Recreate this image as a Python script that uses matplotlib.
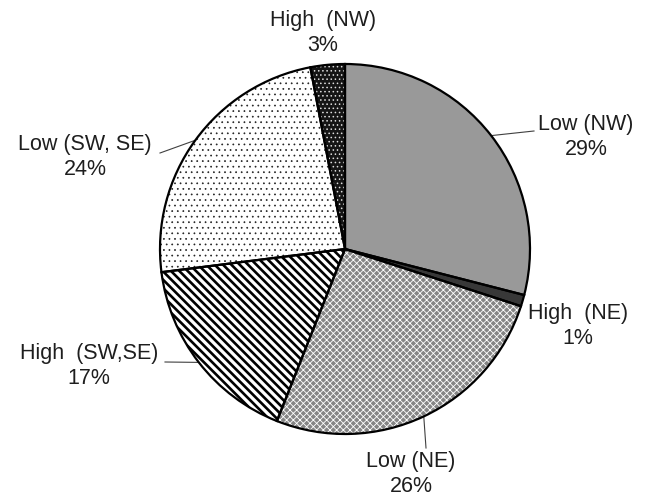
import numpy as np
import matplotlib
matplotlib.use("Agg")
import matplotlib.pyplot as plt

plt.rcParams['font.family'] = ['Liberation Sans', 'DejaVu Sans']

# ---- data ----
labels = ["Low (NW)", "High  (NE)", "Low (NE)", "High  (SW,SE)", "Low (SW, SE)", "High  (NW)"]
values = [29, 1, 26, 17, 24, 3]
pct_labels = ["29%", "1%", "26%", "17%", "24%", "3%"]

# ---- styles ----
faces = ['#999999', '#383838', '#858585', 'white', 'white', '#151515']
hatches = [None, None, 'xxxxx', '\\\\\\\\', '...', '....']
hatch_colors = ['#999999', '#383838', 'white', 'black', '#222222', '#dddddd']
hatch_lws = [1.0, 1.0, 0.6, 1.9, 0.5, 0.6]

W, H = 649, 500
CX, CY, R = 345, H - 249, 185

# label block centres (image px) and leader-line end points (image px or None)
label_pos = [(586, 137), (578, 326), (411, 474), (89, 366), (85, 157), (323, 33)]
leader_end = [(534, 131), None, (426, 448), (165, 362), (160, 153), None]

fig = plt.figure(figsize=(W / 100, H / 100), dpi=100)
ax = fig.add_axes([0, 0, 1, 1])

wedges, _ = ax.pie(values, startangle=90, counterclock=False,
                   center=(CX, CY), radius=R,
                   wedgeprops=dict(linewidth=0))
for w, fc, ht, hc, hl in zip(wedges, faces, hatches, hatch_colors, hatch_lws):
    w.set_facecolor(fc)
    w.set_edgecolor(hc)
    w.set_linewidth(0)
    if ht:
        w.set_hatch(ht)
        if hasattr(w, 'set_hatch_linewidth'):
            w.set_hatch_linewidth(hl)

# outlines
wedges2, _ = ax.pie(values, startangle=90, counterclock=False,
                    center=(CX, CY), radius=R,
                    wedgeprops=dict(fill=False, edgecolor='black', linewidth=1.6))

for i, w in enumerate(wedges):
    mid = np.deg2rad((w.theta1 + w.theta2) / 2)
    px, py = CX + R * np.cos(mid), CY + R * np.sin(mid)
    tx, ty = label_pos[i]
    ax.text(tx, H - ty, labels[i] + "\n" + pct_labels[i], ha='center', va='center',
            fontsize=15.5, color='#1e1e1e', linespacing=1.22)
    if leader_end[i] is not None:
        ex, ey = leader_end[i]
        ax.plot([px, ex], [py, H - ey], color='#404040', lw=0.8, zorder=0.5)

ax.set_xlim(0, W)
ax.set_ylim(0, H)
ax.set_aspect('equal')
ax.axis('off')
fig.savefig('out.png', dpi=100)
